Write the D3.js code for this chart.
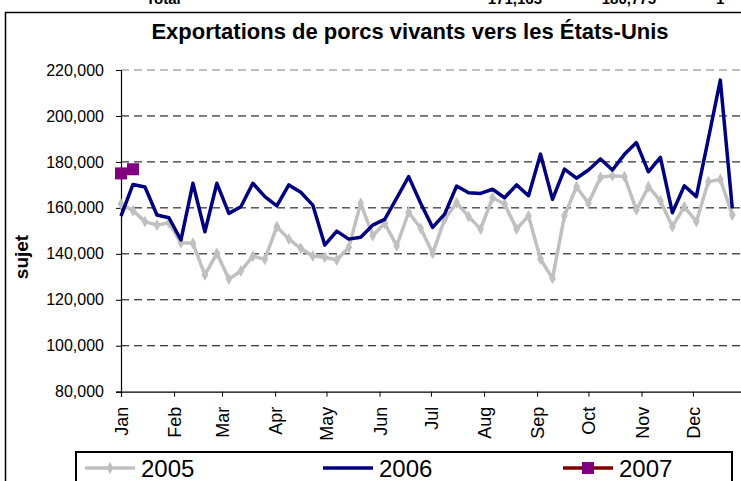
<!DOCTYPE html>
<html>
<head>
<meta charset="utf-8">
<script src="https://cdn.jsdelivr.net/npm/d3@7"></script>
<style>
  html, body { margin: 0; padding: 0; background: #fff; }
  svg { display: block; font-family: Arial, "Liberation Sans", sans-serif; }
</style>
</head>
<body>
<svg id="chart" width="741" height="481"></svg>
<script>
// ---- Data ----
const monthLabels = ["Jan","Feb","Mar","Apr","May","Jun","Jul","Aug","Sep","Oct","Nov","Dec"];
const yTicks = [80000,100000,120000,140000,160000,180000,200000,220000];
const seriesNames = ["2005","2006","2007"];
const values2005 = [161700,158800,154000,152500,153500,144800,144600,130800,140200,129000,
  132500,139000,137600,151800,146400,142400,139000,138500,137300,142800,
  162000,147900,153300,143500,158100,151100,140200,155000,162200,156200,
  150800,164400,161700,150800,156500,137700,129300,156600,169200,162000,
  173300,174000,173600,159100,169200,163100,151800,160500,154000,171400,
  172400,156900];
const values2006 = [156400,170200,169100,156900,155700,146000,170700,149600,170700,157600,
  160500,170700,164900,160900,170000,166800,161200,143800,149900,146400,
  147200,152500,155000,164200,173600,162000,151500,157300,169500,166600,
  166300,168100,164400,170000,165300,183400,163700,176900,172900,176500,
  181300,176500,183300,188400,175700,182000,157900,169600,164900,190000,
  215600,159800];
const values2007 = [175000,176800];
const titleText = "Exportations de porcs vivants vers les États-Unis";
const yTitle = "sujet";
const topRowTexts = ["Total","171,163","180,775","1"];

// ---- Layout ----
const svg = d3.select("#chart");
const x0 = 121, x1 = 746, yTop = 70, yBot = 391.7;
const weekDate = i => new Date(2006, 0, 1 + 7 * i);
const x = d3.scaleTime().domain([new Date(2006,0,1), new Date(2007,0,1)]).range([x0, x1]);
const y = d3.scaleLinear().domain([80000, 220000]).range([yBot, yTop]);

// top row of spreadsheet (cut off at the top edge, as in the reference)
const topRow = svg.append("g").attr("font-weight","bold").attr("font-size",15);
topRow.append("text").attr("x",146).attr("y",4).text(topRowTexts[0]);
topRow.append("text").attr("x",542).attr("y",4).attr("text-anchor","end").text(topRowTexts[1]);
topRow.append("text").attr("x",656).attr("y",4).attr("text-anchor","end").text(topRowTexts[2]);
topRow.append("text").attr("x",716).attr("y",4).text(topRowTexts[3]);

// chart frame
svg.append("rect").attr("x",5.5).attr("y",12.5).attr("width",800).attr("height",520)
  .attr("fill","#fff").attr("stroke","#000").attr("stroke-width",1.5);

// title
svg.append("text").attr("x",410).attr("y",39).attr("text-anchor","middle")
  .attr("font-weight","bold").attr("font-size",22).text(titleText);

// gridlines
svg.append("g").selectAll("line").data(yTicks.filter(d => d > 80000)).join("line")
  .attr("x1",x0).attr("x2",741).attr("y1",d=>y(d)).attr("y2",d=>y(d))
  .attr("stroke",d => d === 220000 ? "#808080" : "#000").attr("stroke-width",1)
  .attr("stroke-dasharray","8,5");

// y axis
const yAxis = svg.append("g").attr("transform",`translate(${x0},0)`)
  .call(d3.axisLeft(y).tickValues(yTicks).tickSize(5).tickPadding(12).tickFormat(d3.format(",")));
yAxis.select(".domain").attr("stroke","#000").attr("stroke-width",1.2);
yAxis.selectAll("text").attr("font-size",16).attr("fill","#000").attr("font-family","Arial, 'Liberation Sans', sans-serif");

// x axis
const xAxis = svg.append("g").attr("transform",`translate(0,${yBot})`)
  .call(d3.axisBottom(x).tickValues(d3.timeMonths(new Date(2006,0,1), new Date(2007,0,1)))
    .tickSize(5).tickFormat((d,i) => monthLabels[i]));
xAxis.select(".domain").attr("stroke","#000").attr("stroke-width",1.2);
xAxis.selectAll("text").attr("font-size",18).attr("fill","#000")
  .attr("font-family","Arial, 'Liberation Sans', sans-serif")
  .attr("text-anchor","end").attr("transform","rotate(-90)")
  .attr("x",-15).attr("y",0).attr("dy","0.36em");

// y title
svg.append("text").attr("transform","translate(28,257) rotate(-90)")
  .attr("text-anchor","middle").attr("font-weight","bold").attr("font-size",19).text(yTitle);

// lines
const line = d3.line().x((d,i) => x(weekDate(i))).y(d => y(d));
svg.append("path").datum(values2005).attr("d",line).attr("fill","none")
  .attr("stroke","#C0C0C0").attr("stroke-width",3.5).attr("stroke-linejoin","round");
svg.append("g").selectAll("path").data(values2005).join("path")
  .attr("d", d3.symbol(d3.symbolDiamond, 40))
  .attr("transform",(d,i) => `translate(${x(weekDate(i))},${y(d)})`)
  .attr("fill","#C0C0C0");
svg.append("path").datum(values2006).attr("d",line).attr("fill","none")
  .attr("stroke","#000080").attr("stroke-width",3.5).attr("stroke-linejoin","round");
svg.append("path").datum(values2007).attr("d",line).attr("fill","none")
  .attr("stroke","#800000").attr("stroke-width",3.5);
svg.append("g").selectAll("rect").data(values2007).join("rect")
  .attr("x",(d,i) => x(weekDate(i)) - 6).attr("y",d => y(d) - 6)
  .attr("width",12).attr("height",12).attr("fill","#800080");

// legend
const lg = svg.append("g");
lg.append("rect").attr("x",76).attr("y",452).attr("width",656).attr("height",60)
  .attr("fill","#fff").attr("stroke","#000").attr("stroke-width",2);
const legendItems = [
  {name: seriesNames[0], color:"#C0C0C0", x:85, marker:"diamond"},
  {name: seriesNames[1], color:"#000080", x:323, marker:null},
  {name: seriesNames[2], color:"#800000", x:563, marker:"square"}
];
legendItems.forEach(it => {
  const ly = 468;
  lg.append("line").attr("x1",it.x).attr("x2",it.x+50).attr("y1",ly).attr("y2",ly)
    .attr("stroke",it.color).attr("stroke-width",3.5);
  if (it.marker === "diamond") {
    lg.append("path").attr("d", d3.symbol(d3.symbolDiamond, 40)).attr("transform",`translate(${it.x+25},${ly})`).attr("fill","#C0C0C0");
  } else if (it.marker === "square") {
    lg.append("rect").attr("x",it.x+19).attr("y",ly-6).attr("width",12).attr("height",12).attr("fill","#800080");
  }
  lg.append("text").attr("x",it.x+56).attr("y",ly+9).attr("font-size",24).text(it.name);
});
</script>
</body>
</html>
